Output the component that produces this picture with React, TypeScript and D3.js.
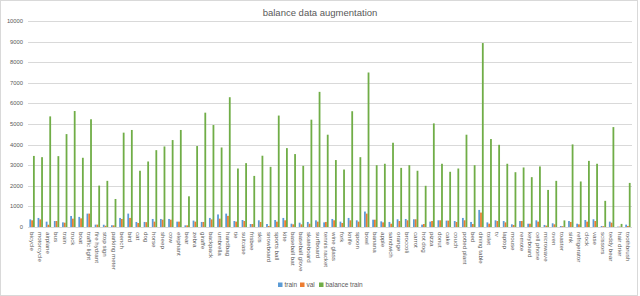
import * as d3 from 'd3'

const categories = [
  'bicycle', 'motorcycle', 'airplane', 'bus', 'train', 'truck', 'boat', 'traffic light', 'fire hydrant', 'stop sign',
  'parking meter', 'bench', 'bird', 'cat', 'dog', 'horse', 'sheep', 'cow', 'elephant', 'bear',
  'zebra', 'giraffe', 'backpack', 'umbrella', 'handbag', 'tie', 'suitcase', 'frisbee', 'skis', 'snowboard',
  'sports ball', 'kite', 'baseball bat', 'baseball glove', 'skateboard', 'surfboard', 'tennis racket', 'wine glass', 'fork', 'knife',
  'spoon', 'bowl', 'banana', 'apple', 'sandwich', 'orange', 'broccoli', 'carrot', 'hot dog', 'pizza',
  'donut', 'cake', 'couch', 'potted plant', 'bed', 'dining table', 'toilet', 'tv', 'laptop', 'mouse',
  'remote', 'keyboard', 'cell phone', 'microwave', 'oven', 'toaster', 'sink', 'refrigerator', 'clock', 'vase',
  'scissors', 'teddy bear', 'hair drier', 'toothbrush',
]

const trainValues = [
  370, 440, 260, 290, 225, 535, 490, 650, 115, 110,
  85, 440, 650, 245, 245, 390, 390, 390, 260, 80,
  310, 245, 440, 610, 650, 290, 340, 145, 325, 145,
  340, 440, 160, 210, 245, 325, 225, 390, 260, 440,
  325, 750, 355, 275, 245, 375, 390, 375, 115, 260,
  325, 310, 290, 440, 245, 830, 225, 325, 290, 130,
  290, 160, 325, 100, 180, 50, 290, 160, 340, 375,
  50, 260, 20, 115,
]

const valValues = [
  325, 370, 110, 290, 210, 405, 420, 650, 115, 60,
  80, 390, 440, 195, 235, 260, 355, 355, 260, 80,
  260, 245, 370, 405, 540, 260, 290, 145, 245, 50,
  260, 325, 130, 130, 160, 260, 245, 325, 195, 325,
  260, 650, 355, 225, 160, 290, 325, 375, 145, 290,
  325, 310, 245, 325, 145, 700, 160, 290, 225, 100,
  290, 160, 260, 65, 130, 40, 245, 130, 260, 290,
  40, 210, 20, 50,
]

const balanceValues = [
  3450, 3390, 5370, 3440, 4510, 5630, 3360, 5230, 2010, 2240,
  1360, 4580, 4710, 2730, 3180, 3730, 3910, 4220, 4710, 1490,
  3930, 5550, 4950, 3860, 6300, 2840, 3100, 2480, 3460, 2920,
  5410, 3830, 3540, 2970, 5210, 6560, 4480, 3250, 2790, 5620,
  3390, 7500, 3000, 3070, 4090, 2870, 3000, 2730, 2000, 5030,
  3070, 2680, 2840, 4480, 3000, 8930, 4270, 3990, 3070, 2660,
  2890, 2420, 2940, 1800, 2240, 320, 4010, 2210, 3210, 3070,
  1270, 4850, 150, 2140,
]

const seriesNames = ['train', 'val', 'balance train']
const seriesColors = ['#5B9BD5', '#ED7D31', '#70AD47']
const yTicks = d3.range(0, 10001, 1000)

const W = 640
const H = 296
const margin = { top: 21, right: 8, bottom: 69, left: 28 }
const font = '"Liberation Sans", Arial, sans-serif'
const textColor = '#595959'

export default function App() {
  const series = [trainValues, valValues, balanceValues]

  const x = d3.scaleBand<string>()
    .domain(categories)
    .range([margin.left, W - margin.right])
    .paddingInner(0)
    .paddingOuter(0)

  const bw = x.bandwidth()
  const xInner = d3.scaleBand<string>()
    .domain(seriesNames)
    .range([bw * 0.17, bw * 0.83])
    .padding(0)

  const y = d3.scaleLinear()
    .domain([0, 10000])
    .range([H - margin.bottom, margin.top])

  // legend layout
  const legendY = 285
  const legendItems = [
    { name: 'train', x: 278 },
    { name: 'val', x: 300 },
    { name: 'balance train', x: 319 },
  ]

  return (
    <svg
      width={W}
      height={H}
      style={{ position: 'fixed', left: 0, top: 0, background: '#fff' }}
      fontFamily={font}
    >
      <rect x={0.5} y={0.5} width={W - 3} height={H - 1} fill="#fff" stroke="#d9d9d9" />

      <text x={W / 2} y={16} textAnchor="middle" fontSize={9.5} fill={textColor}>
        balance data augmentation
      </text>

      {/* grid + y labels */}
      {yTicks.map(t => (
        <g key={t}>
          <line
            x1={margin.left}
            x2={W - margin.right}
            y1={Math.round(y(t)) + 0.5}
            y2={Math.round(y(t)) + 0.5}
            stroke="#d9d9d9"
            strokeWidth={1}
          />
          <text
            x={23}
            y={y(t)}
            dy="0.35em"
            textAnchor="end"
            fontSize={5.8}
            fill={textColor}
          >
            {t}
          </text>
        </g>
      ))}

      {/* bars */}
      {categories.map((c, i) => (
        <g key={c} transform={`translate(${x(c)},0)`}>
          {series.map((vals, s) => (
            <rect
              key={s}
              x={xInner(seriesNames[s])}
              y={y(vals[i])}
              width={xInner.bandwidth()}
              height={y(0) - y(vals[i])}
              fill={seriesColors[s]}
            />
          ))}
        </g>
      ))}

      <line
        x1={margin.left}
        x2={W - margin.right}
        y1={Math.round(y(0)) + 0.5}
        y2={Math.round(y(0)) + 0.5}
        stroke="#d9d9d9"
      />

      {/* category labels */}
      {categories.map(c => {
        const cx = x(c)! + bw / 2
        const cy = y(0) + 5
        return (
          <text
            key={c}
            x={cx}
            y={cy}
            transform={`rotate(90,${cx},${cy})`}
            dy="0.35em"
            textAnchor="start"
            fontSize={6.2}
            fill={textColor}
          >
            {c}
          </text>
        )
      })}

      {/* legend */}
      {legendItems.map((d, i) => (
        <g key={d.name}>
          <rect x={d.x} y={legendY - 2.5} width={4.5} height={4.5} fill={seriesColors[i]} />
          <text x={d.x + 6.5} y={legendY} dy="0.35em" fontSize={6.5} fill={textColor}>
            {d.name}
          </text>
        </g>
      ))}
    </svg>
  )
}
